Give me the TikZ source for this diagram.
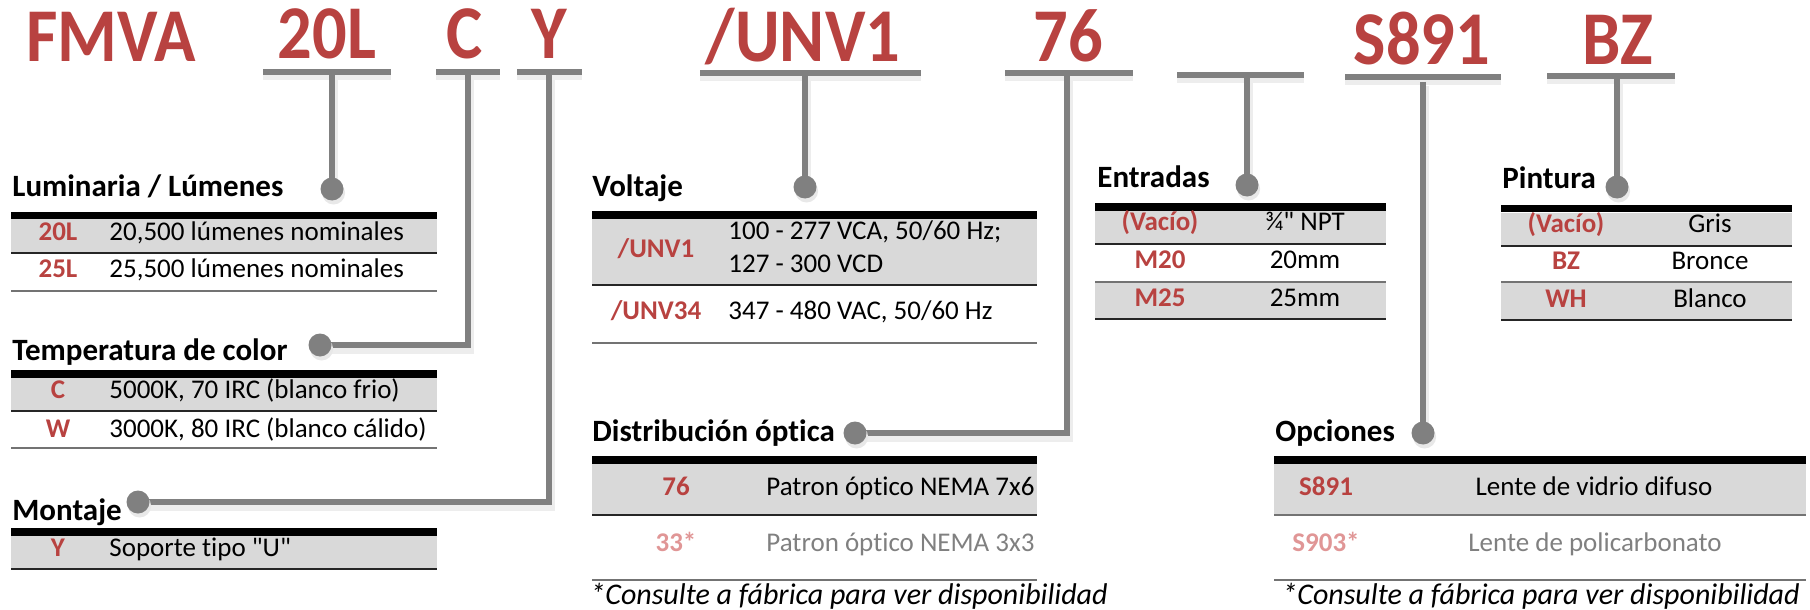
\documentclass[tikz,border=0pt]{standalone}
\usepackage{fontspec}
\setmainfont{Carlito}[Ligatures={TeXOff,CommonOff}]
\newfontfamily\codefont[FakeStretch=0.9]{Carlito}
\definecolor{fmred}{RGB}{184,66,64}
\definecolor{fmpink}{RGB}{224,150,150}
\definecolor{fmgray}{RGB}{128,128,128}
\definecolor{rowgray}{RGB}{217,217,217}
\definecolor{txtgray}{RGB}{128,128,128}

\begin{document}
\begin{tikzpicture}[x=0.5pt,y=-0.5pt]
  \tikzstyle{code}=[inner sep=0pt,anchor=base,text=fmred,font=\codefont\bfseries\fontsize{38pt}{40pt}\selectfont]
  \tikzstyle{title}=[inner sep=0pt,anchor=base west,font=\bfseries\fontsize{15.5pt}{18pt}\selectfont]
  \tikzstyle{opt}=[inner sep=0pt,anchor=base,text=fmred,font=\bfseries\fontsize{13.5pt}{16pt}\selectfont]
  \tikzstyle{desc}=[inner sep=0pt,anchor=base west,font=\fontsize{13.5pt}{16pt}\selectfont]
  \tikzstyle{descc}=[desc,anchor=base]
  \tikzstyle{note}=[inner sep=0pt,anchor=base west,font=\itshape\fontsize{15pt}{17pt}\selectfont]
  \tikzstyle{bar}=[draw=fmgray,line width=2.6pt,preaction={draw=black!7,line width=4.5pt,transform canvas={yshift=-2pt}}]
  \tikzstyle{stem}=[draw=fmgray,line width=3pt,preaction={draw=black!7,line width=4.5pt,transform canvas={xshift=0.8pt,yshift=-2pt}}]
  \tikzstyle{dot}=[circle,fill=fmgray,inner sep=0pt,minimum size=11.5pt,preaction={fill=black!9,transform canvas={xshift=0.8pt,yshift=-2pt}}]
  \tikzstyle{head}=[line width=3.6pt]
  \tikzstyle{sep}=[black!85,line width=0.6pt]
  \tikzstyle{foot}=[black!55,line width=1pt]

  \useasboundingbox (0,0) rectangle (1810,610);

  % catalogue number
  \node[code] (fmva) at (111,62) {FMVA};
  \node[code] (lum)  at (327,59) {20L};
  \node[code] (temp) at (465,59) {C};
  \node[code] (mont) at (549,59) {Y};
  \node[code] (volt) at (803,62) {/UNV1};
  \node[code] (dist) at (1068,62) {76};
  \node[code] (sopt) at (1422,65) {S891};
  \node[code] (pint) at (1618,65) {BZ};

  \draw[bar] (263,72) -- (391,72);
  \draw[bar] (436,72) -- (500,72);
  \draw[bar] (517,72) -- (582,72);
  \draw[bar] (700,73) -- (921,73);
  \draw[bar] (1005,73) -- (1133,73);
  \draw[bar] (1177,75) -- (1304,75);
  \draw[bar] (1345,77) -- (1501,77);
  \draw[bar] (1547,76) -- (1675,76);

  \coordinate (lum-t)  at (332,72);
  \coordinate (temp-t) at (468,72);
  \coordinate (mont-t) at (549,72);
  \coordinate (volt-t) at (805,73);
  \coordinate (dist-t) at (1067,73);
  \coordinate (ent-t)  at (1247,75);
  \coordinate (sopt-t) at (1423,82);
  \coordinate (pint-t) at (1617,76);

  \coordinate (lum-e)  at (332,189);
  \coordinate (temp-e) at (320,345);
  \coordinate (mont-e) at (138,502);
  \coordinate (volt-e) at (805,187);
  \coordinate (dist-e) at (855,433);
  \coordinate (ent-e)  at (1247,185);
  \coordinate (sopt-e) at (1423,433);
  \coordinate (pint-e) at (1617,187);

  \draw[stem] (lum-t) -- (lum-e);
  \draw[stem] (temp-t) |- (temp-e);
  \draw[stem] (mont-t) |- (mont-e);
  \draw[stem] (volt-t) -- (volt-e);
  \draw[stem] (dist-t) |- (dist-e);
  \draw[stem] (ent-t) -- (ent-e);
  \draw[stem] (sopt-t) -- (sopt-e);
  \draw[stem] (pint-t) -- (pint-e);

  \node[dot] (lum-d)  at (lum-e) {};
  \node[dot] (temp-d) at (temp-e) {};
  \node[dot] (mont-d) at (mont-e) {};
  \node[dot] (volt-d) at (volt-e) {};
  \node[dot] (dist-d) at (dist-e) {};
  \node[dot] (ent-d)  at (ent-e) {};
  \node[dot] (sopt-d) at (sopt-e) {};
  \node[dot] (pint-d) at (pint-e) {};

  % Luminaria / Lumenes
  \node[title] (lum-h) at (12,197) {Luminaria / Lúmenes};
  \fill[rowgray] (11,219) rectangle (437,253);
  \draw[head] (11,215.5) -- (437,215.5);
  \draw[sep] (11,253) -- (437,253);
  \draw[foot] (11,291) -- (437,291);
  \node[opt] (lum-1) at (58,240) {20L};
  \node[desc] (lum-1d) at (109,240) {20,500 lúmenes nominales};
  \node[opt] (lum-2) at (58,277) {25L};
  \node[desc] (lum-2d) at (109,277) {25,500 lúmenes nominales};

  % Temperatura de color
  \node[title] (temp-h) at (12,360) {Temperatura de color};
  \fill[rowgray] (11,377) rectangle (437,411);
  \draw[head] (11,374) -- (437,374);
  \draw[sep] (11,411) -- (437,411);
  \draw[foot] (11,448) -- (437,448);
  \node[opt] (temp-1) at (58,398) {C};
  \node[desc] (temp-1d) at (109,398) {5000K, 70 IRC (blanco frio)};
  \node[opt] (temp-2) at (58,437) {W};
  \node[desc] (temp-2d) at (109,437) {3000K, 80 IRC (blanco cálido)};

  % Montaje
  \node[title] (mont-h) at (12,520) {Montaje};
  \fill[rowgray] (11,535) rectangle (437,569);
  \draw[head] (11,532) -- (437,532);
  \draw[sep] (11,569) -- (437,569);
  \node[opt] (mont-1) at (58,556) {Y};
  \node[desc] (mont-1d) at (109,556) {Soporte tipo "U"};

  % Voltaje
  \node[title] (volt-h) at (592,197) {Voltaje};
  \fill[rowgray] (592,219) rectangle (1037,285);
  \draw[head] (592,215) -- (1037,215);
  \draw[sep] (592,285) -- (1037,285);
  \draw[foot] (592,343) -- (1037,343);
  \node[opt] (volt-1) at (656,257) {/UNV1};
  \node[desc] (volt-1d) at (728,239) {100 - 277 VCA, 50/60 Hz;};
  \node[desc] (volt-1e) at (728,272) {127 - 300 VCD};
  \node[opt] (volt-2) at (656,319) {/UNV34};
  \node[desc] (volt-2d) at (728,319) {347 - 480 VAC, 50/60 Hz};

  % Distribucion optica
  \node[title] (dist-h) at (592,441) {Distribución óptica};
  \fill[rowgray] (592,464) rectangle (1037,515);
  \draw[head] (592,460) -- (1037,460);
  \draw[sep] (592,515) -- (1037,515);
  \draw[foot] (592,580) -- (1037,580);
  \node[opt] (dist-1) at (676,495) {76};
  \node[desc] (dist-1d) at (766,495) {Patron óptico NEMA 7x6};
  \node[opt,text=fmpink] (dist-2) at (676,551) {33*};
  \node[desc,text=txtgray] (dist-2d) at (766,551) {Patron óptico NEMA 3x3};
  \node[note] (dist-n) at (590,604) {*Consulte a fábrica para ver disponibilidad};

  % Entradas
  \node[title] (ent-h) at (1097,187) {Entradas};
  \fill[rowgray] (1095,211) rectangle (1386,244);
  \fill[rowgray] (1095,282) rectangle (1386,319);
  \draw[head] (1095,207) -- (1386,207);
  \draw[sep] (1095,244) -- (1386,244);
  \draw[foot] (1095,282) -- (1386,282);
  \draw[sep] (1095,319) -- (1386,319);
  \node[opt] (ent-1) at (1160,230) {(Vacío)};
  \node[descc] (ent-1d) at (1305,230) {¾" NPT};
  \node[opt] (ent-2) at (1160,268) {M20};
  \node[descc] (ent-2d) at (1305,268) {20mm};
  \node[opt] (ent-3) at (1160,306) {M25};
  \node[descc] (ent-3d) at (1305,306) {25mm};

  % Pintura
  \node[title] (pint-h) at (1502,188) {Pintura};
  \fill[rowgray] (1501,213) rectangle (1792,246);
  \fill[rowgray] (1501,282) rectangle (1792,320);
  \draw[head] (1501,208.5) -- (1792,208.5);
  \draw[sep] (1501,246) -- (1792,246);
  \draw[foot] (1501,282) -- (1792,282);
  \draw[sep] (1501,320) -- (1792,320);
  \node[opt] (pint-1) at (1566,232) {(Vacío)};
  \node[descc] (pint-1d) at (1710,232) {Gris};
  \node[opt] (pint-2) at (1566,269) {BZ};
  \node[descc] (pint-2d) at (1710,269) {Bronce};
  \node[opt] (pint-3) at (1566,307) {WH};
  \node[descc] (pint-3d) at (1710,307) {Blanco};

  % Opciones
  \node[title] (sopt-h) at (1275,441) {Opciones};
  \fill[rowgray] (1274,464) rectangle (1806,515);
  \draw[head] (1274,460) -- (1806,460);
  \draw[foot] (1274,515) -- (1806,515);
  \draw[foot] (1274,580) -- (1806,580);
  \node[opt] (sopt-1) at (1326,495) {S891};
  \node[descc] (sopt-1d) at (1594,495) {Lente de vidrio difuso};
  \node[opt,text=fmpink] (sopt-2) at (1326,551) {S903*};
  \node[descc,text=txtgray] (sopt-2d) at (1595,551) {Lente de policarbonato};
  \node[note] (sopt-n) at (1282,604) {*Consulte a fábrica para ver disponibilidad};
\end{tikzpicture}
\end{document}
